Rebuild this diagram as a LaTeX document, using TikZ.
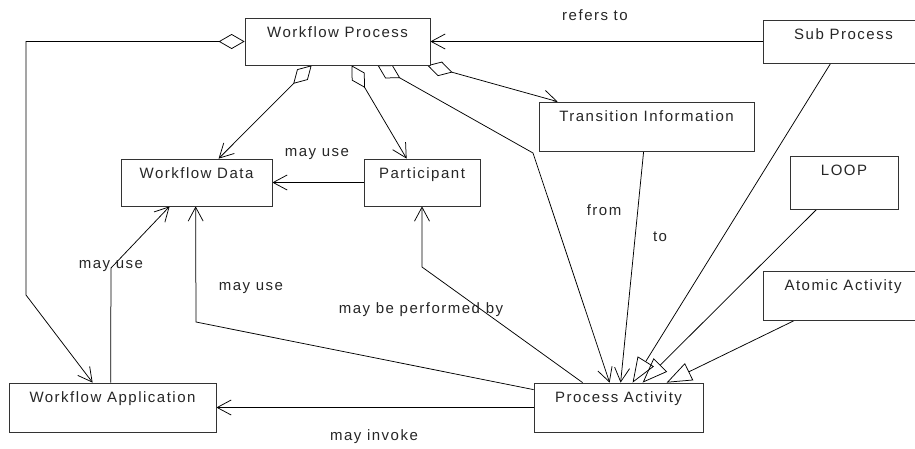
\documentclass[tikz,border=0pt]{standalone}
\usepackage{fontspec}
\setmainfont{Liberation Sans}[LetterSpace=10]
\usetikzlibrary{arrows.meta,backgrounds}

\begin{document}
\begin{tikzpicture}[x=1pt,y=-1pt,
  every node/.style={font=\fontsize{15}{18}\selectfont, inner sep=0pt, text=black!85},
  box/.style={draw=black!80, fill=white, line width=0.75pt},
  title/.style={anchor=base, yshift=-20pt},
  conn/.style={draw=black, line width=0.75pt},
  nav/.style={conn, -{Straight Barb[length=14pt,width=15pt]}},
  agg/.style={conn, {Diamond[open,length=26pt,width=15pt]}-{Straight Barb[length=14pt,width=15pt]}},
  gen/.style={conn, -{Triangle[open,length=25pt,width=19pt]}}
]
\useasboundingbox (0,0) rectangle (915,448);

% classes
\node[box, minimum width=185pt, minimum height=47pt, label={[title]north:Workflow Process}] (wp) at (337.5,41.5) {};
\node[box, minimum width=161pt, minimum height=43pt, label={[title]north:Sub Process}] (sp) at (843.5,41.5) {};
\node[box, minimum width=215pt, minimum height=49pt, label={[title]north:Transition Information}] (ti) at (646.5,126.5) {};
\node[box, minimum width=108pt, minimum height=53pt, label={[title]north:LOOP}] (loop) at (844,182.5) {};
\node[box, minimum width=160pt, minimum height=49pt, label={[title]north:Atomic Activity}] (aa) at (843,295.5) {};
\node[box, minimum width=169pt, minimum height=49pt, label={[title]north:Process Activity}] (pa) at (618.5,407.5) {};
\node[box, minimum width=151pt, minimum height=47pt, label={[title]north:Workflow Data}] (wd) at (196.5,182.5) {};
\node[box, minimum width=116pt, minimum height=47pt, label={[title]north:Participant}] (part) at (422,182.5) {};
\node[box, minimum width=207pt, minimum height=49pt, label={[title]north:Workflow Application}] (wa) at (112.5,407.5) {};

% bend points
\coordinate (wpl1) at (26,41.5);
\coordinate (wpl2) at (26,295);
\coordinate (wpb) at (533,153);
\coordinate (wab) at (111,268);
\coordinate (pab1) at (196,322);
\coordinate (pab2) at (422,267);

\begin{scope}[on background layer]
  % aggregations from Workflow Process
  \draw[agg] (wp.west) -- (wpl1) -- (wpl2) -- ([xshift=84pt]wa.north west);
  \draw[agg] ([xshift=67pt]wp.south west) -- ([xshift=98pt]wd.north west);
  \draw[agg] ([xshift=107pt]wp.south west) -- ([xshift=43pt]part.north west);
  \draw[agg] ([xshift=133pt]wp.south west) -- (wpb) -- ([xshift=76pt]pa.north west);
  \draw[agg] ([xshift=-3pt]wp.south east) -- ([xshift=19pt]ti.north west);
  % navigable associations
  \draw[nav] (sp.west) -- (wp.east);
  \draw[nav] (part.west) -- (wd.east);
  \draw[nav] ([xshift=102pt]wa.north west) -- (wab) -- ([xshift=49pt]wd.south west);
  \draw[nav] ([yshift=-7pt]pa.north west) -- (pab1) -- ([xshift=75pt]wd.south west);
  \draw[nav] ([xshift=49pt]pa.north west) -- (pab2) -- (part.south);
  \draw[nav] ([xshift=105pt]ti.south west) -- ([xshift=87pt]pa.north west);
  \draw[nav] (pa.west) -- (wa.east);
  % generalizations
  \draw[gen] ([xshift=68pt]sp.south west) -- ([xshift=99pt]pa.north west);
  \draw[gen] ([xshift=27pt]loop.south west) -- ([xshift=109pt]pa.north west);
  \draw[gen] ([xshift=32pt]aa.south west) -- ([xshift=133pt]pa.north west);
\end{scope}

% association labels
\node (lrefers) at (595,15) {refers to};
\node (lusepart) at (317,154) {may use};
\node (lfrom) at (604,210) {from};
\node (lto) at (660,237) {to};
\node (lusewa) at (111,266) {may use};
\node (lusepa) at (251,288) {may use};
\node (lperf) at (421,310) {may be performed by};
\node (linvoke) at (374,437) {may invoke};
\end{tikzpicture}
\end{document}
